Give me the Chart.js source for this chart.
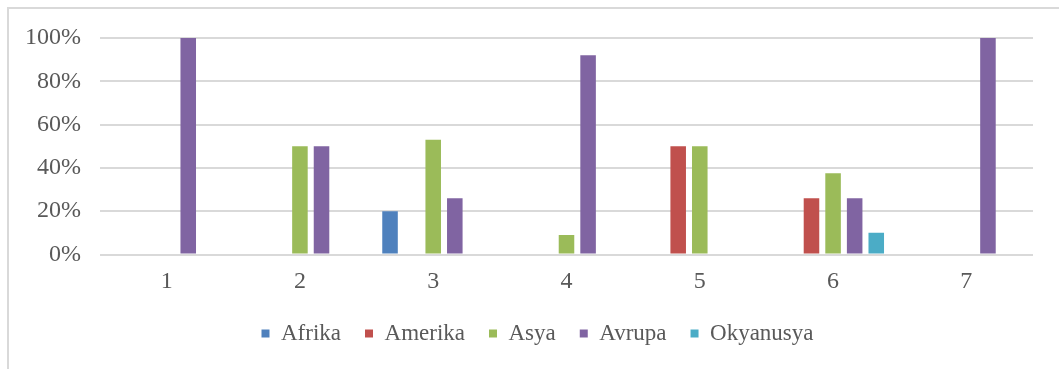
<!DOCTYPE html>
<html>
<head>
<meta charset="utf-8">
<script src="https://cdn.jsdelivr.net/npm/chart.js@4"></script>
<style>
  body { margin: 0; background: #ffffff; }
  #frame {
    position: absolute; left: 7px; top: 7px; width: 1060px; height: 370px;
    border-left: 2px solid #d9d9d9; border-top: 2px solid #d9d9d9;
  }
  #wrap { position: absolute; left: 0; top: 0; width: 1059px; height: 369px; }
</style>
</head>
<body>
<div id="frame"></div>
<div id="wrap"><canvas id="chart"></canvas></div>
<script>
const categories = ['1', '2', '3', '4', '5', '6', '7'];
const seriesNames = ['Afrika', 'Amerika', 'Asya', 'Avrupa', 'Okyanusya'];
const afrika    = [0, 0, 20, 0, 0, 0, 0];
const amerika   = [0, 0, 0, 0, 50, 26, 0];
const asya      = [0, 50, 53, 9, 50, 37.5, 0];
const avrupa    = [100, 50, 26, 92, 0, 26, 100];
const okyanusya = [0, 0, 0, 0, 0, 10, 0];
const yTicks = [0, 20, 40, 60, 80, 100];

const colors = ['#4f81bd', '#c0504d', '#9bbb59', '#8064a2', '#4bacc6'];
const seriesValues = [afrika, amerika, asya, avrupa, okyanusya];

const FONT = 'Liberation Serif';
const TEXT = '#595959';

new Chart(document.getElementById('chart').getContext('2d'), {
    type: 'bar',
    data: {
        labels: categories,
        datasets: seriesNames.map((name, i) => ({
            label: name,
            data: seriesValues[i],
            backgroundColor: colors[i],
            borderWidth: 0,
            categoryPercentage: 0.81,
            barPercentage: 0.72
        }))
    },
    options: {
        responsive: true,
        maintainAspectRatio: false,
        animation: false,
        layout: { padding: { top: 38, right: 5, bottom: 14, left: 21 } },
        plugins: {
            tooltip: { enabled: false },
            legend: {
                position: 'bottom',
                labels: {
                    color: TEXT,
                    font: { family: FONT, size: 23 },
                    boxWidth: 8,
                    boxHeight: 8,
                    padding: 24
                }
            }
        },
        scales: {
            y: {
                min: 0,
                max: 100,
                afterFit: axis => { axis.width = 79; },
                afterBuildTicks: axis => { axis.ticks = yTicks.map(v => ({ value: v })); },
                ticks: {
                    color: TEXT,
                    font: { family: FONT, size: 24 },
                    padding: 19,
                    callback: v => v + '%'
                },
                grid: { color: '#d9d9d9', lineWidth: 2, drawTicks: false },
                border: { display: false }
            },
            // empty right-hand axis, only keeps the plot's right edge in place
            yRight: {
                position: 'right',
                afterFit: axis => { axis.width = 21; },
                ticks: { display: false },
                grid: { display: false, drawTicks: false },
                border: { display: false }
            },
            x: {
                afterFit: axis => { axis.height = 43.5; },
                ticks: {
                    color: TEXT,
                    font: { family: FONT, size: 24 },
                    padding: 13
                },
                grid: { display: false, drawTicks: false },
                border: { display: false }
            }
        }
    }
});
</script>
</body>
</html>
